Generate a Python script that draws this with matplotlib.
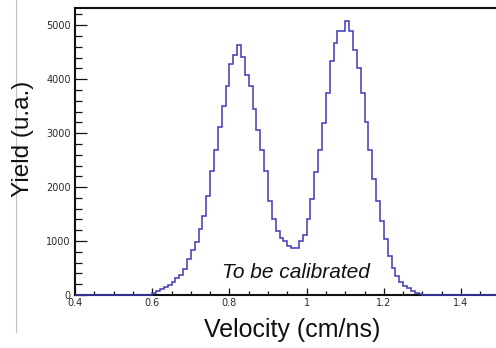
import numpy as np
import matplotlib
matplotlib.use("Agg")
import matplotlib.pyplot as plt
from matplotlib.lines import Line2D
from matplotlib.ticker import MultipleLocator, FuncFormatter

# histogram: bins of 0.01 cm/ns from 0.40 to 1.50, filled between 0.60 and 1.29
x_min = 0.40
x_max = 1.50
bin_width = 0.01
first_filled = 0.60
yield_counts = [
    40, 75, 105, 155, 190, 250, 310, 375, 480, 665,        # 0.60 - 0.69
    840, 980, 1215, 1465, 1840, 2290, 2680, 3115, 3510, 3865,  # 0.70 - 0.79
    4280, 4440, 4640, 4405, 4070, 3865, 3445, 3050, 2680, 2305,  # 0.80 - 0.89
    1745, 1400, 1185, 1060, 1000, 905, 870, 880, 1000, 1120,   # 0.90 - 0.99
    1400, 1775, 2275, 2680, 3180, 3740, 4330, 4675, 4890, 4890,  # 1.00 - 1.09
    5080, 4890, 4550, 4205, 3740, 3210, 2680, 2150, 1745, 1370,  # 1.10 - 1.19
    1030, 715, 500, 345, 250, 175, 125, 65, 30, 10,            # 1.20 - 1.29
]

x_label = "Velocity (cm/ns)"
y_label = "Yield (u.a.)"
note = "To be calibrated"

n_bins = int(round((x_max - x_min) / bin_width))
edges = x_min + bin_width * np.arange(n_bins + 1)
counts = np.zeros(n_bins)
start = int(round((first_filled - x_min) / bin_width))
counts[start:start + len(yield_counts)] = yield_counts

W, H = 496, 348
fig = plt.figure(figsize=(W / 100, H / 100), dpi=100)
fig.patch.set_facecolor("white")

# axes run past the right edge, like the cropped original
ax = fig.add_axes([75 / W, 53 / H, 424.6 / W, 287 / H])
ax.stairs(counts, edges, color="#3c3cb4", linewidth=1.1, clip_on=False, zorder=3)
ax.set_xlim(x_min, x_max)
ax.set_ylim(0, 5320)

for s in ax.spines.values():
    s.set_linewidth(1.5)
    s.set_color("#111111")

ax.xaxis.set_major_locator(MultipleLocator(0.2))
ax.xaxis.set_minor_locator(MultipleLocator(0.05))
ax.yaxis.set_major_locator(MultipleLocator(1000))
ax.yaxis.set_minor_locator(MultipleLocator(200))
ax.xaxis.set_major_formatter(FuncFormatter(lambda v, p: "%g" % round(v, 2)))

ax.tick_params(axis="both", which="both", direction="in", top=False, right=False,
               colors="#111111", labelcolor="#2a2a2a", labelsize=7, width=0.9)
ax.tick_params(axis="y", which="major", length=8.5, pad=3)
ax.tick_params(axis="y", which="minor", length=5)
ax.tick_params(axis="x", which="major", length=5, pad=2.5)
ax.tick_params(axis="x", which="minor", length=3)
for lab in ax.get_xticklabels() + ax.get_yticklabels():
    lab.set_family("DejaVu Sans")

fig.text(292 / W, 1 - 330 / H, x_label, ha="center", va="center",
         fontsize=18, family="Liberation Sans", color="#111111")
fig.text(23 / W, 1 - 139 / H, y_label, ha="center", va="center", rotation=90,
         fontsize=17.5, family="Liberation Sans", color="#111111")
fig.text(296 / W, 1 - 278 / H, note, ha="center", va="baseline",
         fontsize=15, style="italic", family="Liberation Sans", color="#111111")

# thin grey rule at the left of the original screenshot
fig.add_artist(Line2D([15.5 / W, 15.5 / W], [1.0, 1 - 332 / H],
                      color="#c0c0c0", linewidth=0.8))

fig.savefig("out.png", dpi=100)
